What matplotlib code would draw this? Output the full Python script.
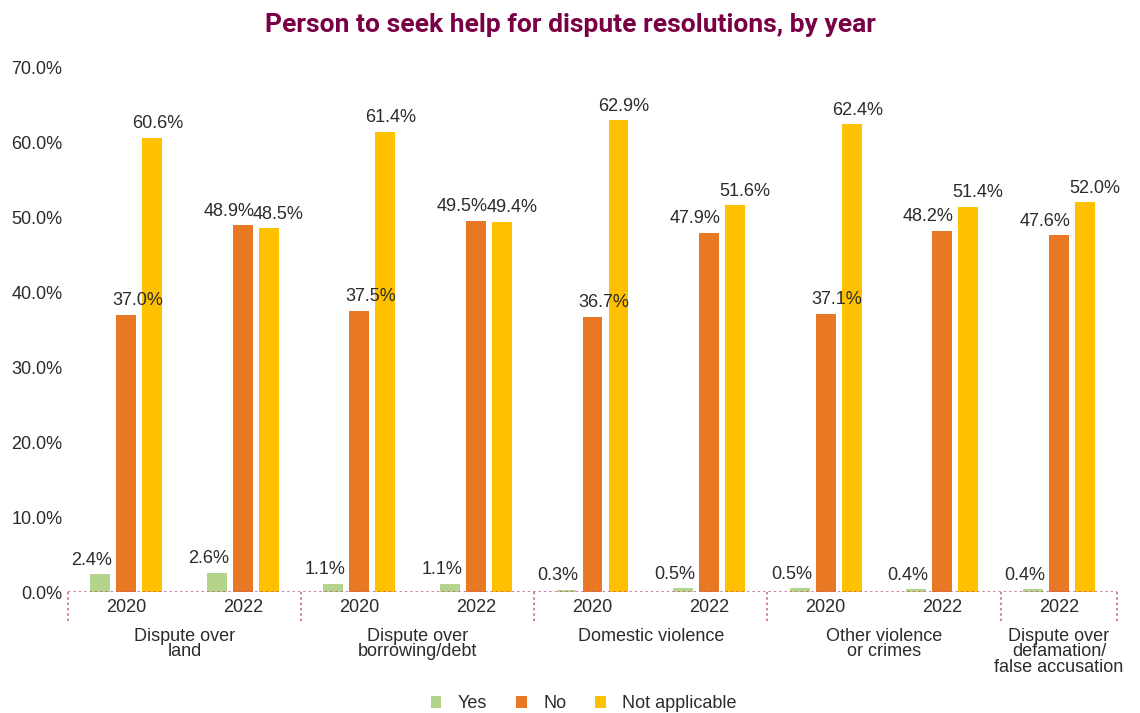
import numpy as np
import matplotlib
matplotlib.use("Agg")
import matplotlib.pyplot as plt
from matplotlib.patches import Patch

# data
years = ["2020", "2022", "2020", "2022", "2020", "2022", "2020", "2022", "2022"]
categories = ["Dispute over\nland", "Dispute over\nborrowing/debt", "Domestic violence",
              "Other violence\nor crimes", "Dispute over\ndefamation/\nfalse accusation"]
cat_spans = [(0, 1), (2, 3), (4, 5), (6, 7), (8, 8)]
yes = [2.4, 2.6, 1.1, 1.1, 0.3, 0.5, 0.5, 0.4, 0.4]
no = [37.0, 48.9, 37.5, 49.5, 36.7, 47.9, 37.1, 48.2, 47.6]
not_applicable = [60.6, 48.5, 61.4, 49.4, 62.9, 51.6, 62.4, 51.4, 52.0]

series = [("Yes", yes, "#b5d48b"), ("No", no, "#e97825"), ("Not applicable", not_applicable, "#ffc000")]

plt.rcParams['font.family'] = ['Liberation Sans', 'DejaVu Sans']

fig = plt.figure(figsize=(11.4, 7.13), dpi=100)
ax = fig.add_axes([0.0596, 0.1697, 0.9204, 0.7363])

x = np.arange(len(years))
step = 0.223
width = 0.17
txt_color = "#2b2b2b"
fs = 13

for i, (name, vals, col) in enumerate(series):
    pos = x + (i - 1) * step
    ax.bar(pos, vals, width, color=col, zorder=2)
    for j, (p, v) in enumerate(zip(pos, vals)):
        # small label shifts like in the original layout
        if name == "Yes":
            dx = -6
        elif name == "No":
            dx = 8 if years[j] == "2020" else -10
        else:
            dx = 4 if years[j] == "2020" else 7
        ax.annotate(f"{v:.1f}%", (p, v), xytext=(dx, 10), textcoords="offset points",
                    ha="center", va="center", fontsize=fs, color=txt_color)

ax.set_xlim(-0.5, len(years) - 0.5)
ax.set_ylim(0, 70)
ax.set_yticks(np.arange(0, 71, 10))
ax.set_yticklabels([f"{t:.1f}%" for t in np.arange(0, 71, 10)], fontsize=fs, color=txt_color)
ax.set_xticks(x)
ax.set_xticklabels(years, fontsize=fs, color=txt_color)
ax.tick_params(axis="both", length=0)
ax.tick_params(axis="x", pad=5)
ax.tick_params(axis="y", pad=4)
for s in ax.spines.values():
    s.set_visible(False)

# dotted group separators under the axis
sep_color = "#c0587e"
ax.axhline(0, color=sep_color, lw=1.1, ls=(0, (1.5, 2)), zorder=3)
bounds = [-0.5, 1.5, 3.5, 5.5, 7.5, 8.5]
for b in bounds:
    ax.plot([b, b], [0, -0.055], transform=ax.get_xaxis_transform(), clip_on=False,
            color=sep_color, lw=1.1, ls=(0, (1.5, 2)))

for name, (a, b) in zip(categories, cat_spans):
    ax.text((a + b) / 2, -0.068, name, transform=ax.get_xaxis_transform(), ha="center", va="top",
            fontsize=fs, color=txt_color, linespacing=0.9)

fig.suptitle("Person to seek help for dispute resolutions, by year", x=0.5, y=0.982,
             fontsize=19, fontweight="bold", color="#7a0045", family=["Roboto", "DejaVu Sans"])

handles = [Patch(facecolor=c, label=n) for n, v, c in series]
fig.legend(handles=handles, loc="lower center", bbox_to_anchor=(0.512, -0.022), ncol=3, frameon=False,
           fontsize=fs, handlelength=0.6, handleheight=0.6, columnspacing=1.6, handletextpad=0.9,
           labelcolor=txt_color)

fig.savefig("out.png", dpi=100)
